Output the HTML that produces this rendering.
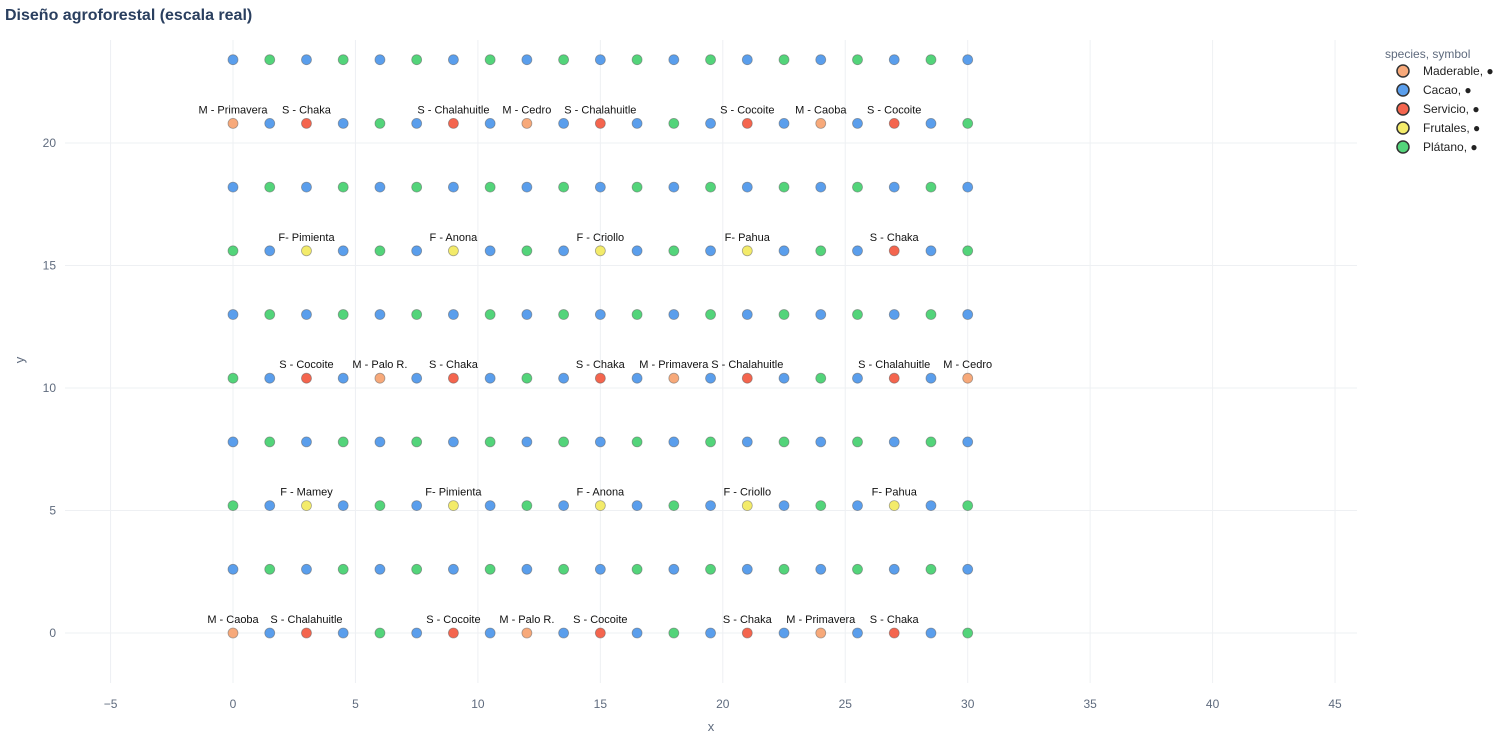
<!DOCTYPE html>
<html><head><meta charset="utf-8"><style>
body{margin:0;background:#fff;width:1504px;height:750px;overflow:hidden;font-family:"Liberation Sans",Arial,sans-serif}
</style></head><body>
<svg id="s" width="1504" height="750" xmlns="http://www.w3.org/2000/svg" font-family="Liberation Sans, Arial, sans-serif"></svg>
<script>
const s=document.getElementById('s');
const X=v=>233+v*24.49, Y=v=>633-v*24.5;
const C={O:'#F7A97A',B:'#5A9EEC',R:'#F4654E',Y:'#F3EB6A',G:'#53D47A'};
let h='';
h+='<text x="5" y="20" font-size="16" font-weight="bold" fill="#2a3f5f">Diseño agroforestal (escala real)</text>';
for(let v=-5;v<=45;v+=5){h+=`<line x1="${X(v)}" y1="40" x2="${X(v)}" y2="683" stroke="#eef0f3"/>`;
h+=`<text x="${X(v)}" y="708" font-size="12" fill="#5f6b7e" text-anchor="middle">${v<0?'−5':v}</text>`;}
for(let v=0;v<=20;v+=5){h+=`<line x1="65" y1="${Y(v)}" x2="1357" y2="${Y(v)}" stroke="#eef0f3"/>`;
h+=`<text x="56" y="${Y(v)+4}" font-size="12" fill="#5f6b7e" text-anchor="end">${v}</text>`;}
h+='<text x="711" y="731" font-size="13" fill="#5f6b7e" text-anchor="middle">x</text>';
h+='<text x="24" y="360" font-size="13" fill="#5f6b7e" text-anchor="middle" transform="rotate(-90 24 360)">y</text>';
const alt='BGBGBGBGBGBGBGBGBGBGB';
const rows={
0:['ORBRBGBRBOBRBGBRBOBRBG'.slice(0),{0:'M - Caoba',3:'S - Chalahuitle',9:'S - Cocoite',12:'M - Palo R.',15:'S - Cocoite',21:'S - Chaka',24:'M - Primavera',27:'S - Chaka'}],
2.6:[alt,{}],
5.2:['GBYBGBYBGBYBGBYBGBYBG',{3:'F - Mamey',9:'F- Pimienta',15:'F - Anona',21:'F - Criollo',27:'F- Pahua'}],
7.8:[alt,{}],
10.4:['GBRBOBRBGBRBOBRBGBRBO',{3:'S - Cocoite',6:'M - Palo R.',9:'S - Chaka',15:'S - Chaka',18:'M - Primavera',21:'S - Chalahuitle',27:'S - Chalahuitle',30:'M - Cedro'}],
13:[alt,{}],
15.6:['GBYBGBYBGBYBGBYBGBRBG',{3:'F- Pimienta',9:'F - Anona',15:'F - Criollo',21:'F- Pahua',27:'S - Chaka'}],
18.2:[alt,{}],
20.8:['OBRBGBRBOBRBGBRBOBRBG',{0:'M - Primavera',3:'S - Chaka',9:'S - Chalahuitle',12:'M - Cedro',15:'S - Chalahuitle',21:'S - Cocoite',24:'M - Caoba',27:'S - Cocoite'}],
23.4:[alt,{}]};
rows[0][0]='OBRBGBRBOBRBGBRBOBRBG';
for(const k in rows){const yv=+k,[p,l]=rows[k];
for(let i=0;i<21;i++){const xv=i*1.5;
h+=`<circle cx="${X(xv)}" cy="${Y(yv)}" r="5" fill="${C[p[i]]}" stroke="#555" stroke-opacity="0.5" stroke-width="0.8"/>`;
if(l[xv])h+=`<text x="${X(xv)}" y="${Y(yv)-10}" font-size="11" fill="#111" text-anchor="middle">${l[xv]}</text>`;}}
h+='<text x="1385" y="58" font-size="12" fill="#5f6b7e">species, symbol</text>';
const lg=[['O','Maderable, ●'],['B','Cacao, ●'],['R','Servicio, ●'],['Y','Frutales, ●'],['G','Plátano, ●']];
lg.forEach((e,i)=>{const y=71+i*19;
h+=`<circle cx="1403" cy="${y}" r="6" fill="${C[e[0]]}" stroke="#333" stroke-width="1.5"/>`;
h+=`<text x="1423" y="${y+4}" font-size="12" fill="#222">${e[1]}</text>`;});
s.innerHTML=h;
</script>
</body></html>
